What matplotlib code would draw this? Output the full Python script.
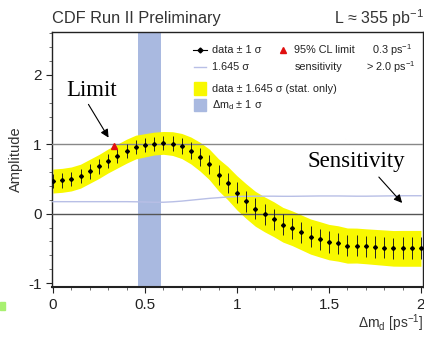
import numpy as np
import matplotlib
matplotlib.use("Agg")
import matplotlib.pyplot as plt
from matplotlib.patches import Rectangle

# ---- data ----
dm = [round(0.05 * i, 2) for i in range(41)]
amplitude = [0.47, 0.48, 0.50, 0.54, 0.61, 0.68, 0.76, 0.83, 0.90, 0.96,
             0.985, 1.01, 1.02, 1.01, 0.975, 0.91, 0.82, 0.71, 0.56, 0.44,
             0.30, 0.18, 0.07, -0.01, -0.08, -0.16, -0.21, -0.27, -0.33, -0.37,
             -0.41, -0.43, -0.46, -0.46, -0.47, -0.48, -0.49, -0.50, -0.50, -0.50,
             -0.50]
sigma = [0.105, 0.105, 0.105, 0.105, 0.105, 0.105, 0.105, 0.105, 0.105, 0.104,
         0.102, 0.100, 0.100, 0.104, 0.110, 0.118, 0.126, 0.134, 0.140, 0.146,
         0.150, 0.152, 0.153, 0.153, 0.153, 0.152, 0.152, 0.153, 0.154, 0.155,
         0.155, 0.155, 0.154, 0.153, 0.153, 0.154, 0.155, 0.156, 0.157, 0.157,
         0.157]
limit_x = [0.33]
limit_y = [0.98]
dmd_band = [0.46, 0.585]
xticks = [0, 0.5, 1, 1.5, 2]
xtick_labels = ["0", "0.5", "1", "1.5", "2"]
yticks = [-1, 0, 1, 2]
ytick_labels = ["-1", "0", "1", "2"]

amp = np.array(amplitude)
sig = np.array(sigma)
x = np.array(dm)

plt.rcParams['font.family'] = ['Liberation Sans', 'DejaVu Sans']
fig = plt.figure(figsize=(4.24, 3.37), dpi=100)
ax = fig.add_axes([0.1226, 0.1484, 0.875, 0.757])

ax.axvspan(dmd_band[0], dmd_band[1], color='#a9b9e0', lw=0, zorder=1)
ax.fill_between(x, amp - 1.645 * sig, amp + 1.645 * sig, color='#f8f800', lw=0, zorder=2)
ax.axhline(1, color='#888888', lw=1.0, zorder=3)
ax.axhline(0, color='#555555', lw=1.0, zorder=3)
ax.plot(x, 1.645 * sig, color='#b8bfe6', lw=1.0, zorder=3)
ax.errorbar(x, amp, yerr=sig, fmt='D', ms=2.0, color='black', ecolor='#222222',
            elinewidth=0.7, capsize=0, zorder=5)
ax.plot(limit_x, limit_y, '^', color='#e01010', ms=5, zorder=6)

ax.set_xlim(-0.005, 2.011)
ax.set_ylim(-1.057, 2.62)
ax.set_xticks(xticks)
ax.set_xticklabels(xtick_labels)
ax.set_yticks(yticks)
ax.set_yticklabels(ytick_labels)
ax.set_xticks(np.arange(0, 2.01, 0.1), minor=True)
ax.set_yticks(np.arange(-1, 2.61, 0.2), minor=True)
ax.tick_params(which='major', direction='out', length=4, width=0.8, labelsize=11, colors='#222222')
ax.tick_params(which='minor', direction='out', length=2, width=0.6, colors='#555555')
ax.tick_params(axis='x', pad=4)
for s in ax.spines.values():
    s.set_linewidth(1.0)
    s.set_color('#222222')
ax.spines['bottom'].set_linewidth(1.5)

ax.set_ylabel('Amplitude', fontsize=10.5, color='#333333', labelpad=4)

fig.text(0.123, 0.945, 'CDF Run II Preliminary', fontsize=11.8, color='#333333', va='center')
fig.text(0.999, 0.945, r'L ≈ 355 pb$^{\mathregular{-1}}$', fontsize=11.5, color='#333333',
         va='center', ha='right')
fig.text(0.999, 0.008, r'$\mathregular{\Delta m_d}$ [ps$^{\mathregular{-1}}$]', fontsize=10,
         color='#333333', ha='right', va='bottom')

# legend (manual)
fs = 7.8
fx = lambda px: px / 424
fy = lambda py: 1 - py / 337
fig.lines.append(plt.Line2D([fx(193), fx(207)], [fy(50), fy(50)], color='black', lw=0.8,
                            transform=fig.transFigure))
fig.lines.append(plt.Line2D([fx(200)], [fy(50)], marker='D', ms=2.5, color='black',
                            transform=fig.transFigure))
fig.text(fx(212), fy(50), 'data ± 1 σ', fontsize=fs, va='center', color='#222222')
fig.lines.append(plt.Line2D([fx(283)], [fy(50)], marker='^', ms=4.5, color='#e01010', lw=0,
                            transform=fig.transFigure))
fig.text(fx(294), fy(50), '95% CL limit', fontsize=fs, va='center', color='#222222')
fig.text(fx(372), fy(50), r'0.3 ps$^{\mathregular{-1}}$', fontsize=fs, va='center', color='#222222')
fig.lines.append(plt.Line2D([fx(194), fx(206)], [fy(67), fy(67)], color='#b8bfe6', lw=1.0,
                            transform=fig.transFigure))
fig.text(fx(212), fy(67), '1.645 σ', fontsize=fs, va='center', color='#222222')
fig.text(fx(295), fy(67), 'sensitivity', fontsize=fs, va='center', color='#222222')
fig.text(fx(366), fy(67), r'> 2.0 ps$^{\mathregular{-1}}$', fontsize=fs, va='center', color='#222222')
fig.patches.append(Rectangle((fx(194), fy(95)), fx(12), 13 / 337, color='#f8f800',
                             transform=fig.transFigure))
fig.text(fx(212), fy(89), 'data ± 1.645 σ (stat. only)', fontsize=fs, va='center', color='#222222')
fig.patches.append(Rectangle((fx(194), fy(111)), fx(12), 12 / 337, color='#a9b9e0',
                             transform=fig.transFigure))
fig.text(fx(212), fy(105), r'$\mathregular{\Delta m_d}$ ± 1 σ', fontsize=fs, va='center', color='#222222')

# annotations
ax.annotate('', xy=(fx(110), fy(140)), xytext=(fx(87), fy(102)),
            xycoords='figure fraction', textcoords='figure fraction',
            arrowprops=dict(arrowstyle='-|>', color='black', lw=0.8, mutation_scale=12))
fig.text(fx(92), fy(90), 'Limit', fontsize=16.5, family=['Liberation Serif'], ha='center',
         va='center', color='black')
ax.annotate('', xy=(fx(404), fy(205)), xytext=(fx(377), fy(175)),
            xycoords='figure fraction', textcoords='figure fraction',
            arrowprops=dict(arrowstyle='-|>', color='black', lw=0.8, mutation_scale=12))
fig.text(fx(356), fy(162), 'Sensitivity', fontsize=16.5, family=['Liberation Serif'], ha='center',
         va='center', color='black')

# small green mark at lower left
fig.patches.append(Rectangle((0, fy(310)), fx(5), 8 / 337, color='#a8f070',
                             transform=fig.transFigure))

fig.savefig('out.png', dpi=100)
